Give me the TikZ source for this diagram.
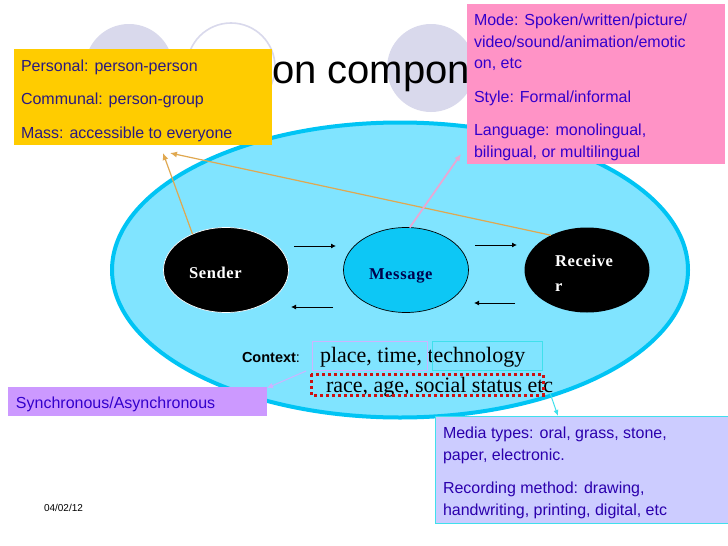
\documentclass[tikz,border=0pt]{standalone}
\usepackage{fontspec}
\setmainfont{Liberation Serif}
\setsansfont{Liberation Sans}
\usetikzlibrary{shapes.geometric,arrows.meta}
\definecolor{ringc}{HTML}{D9D9EC}
\definecolor{skyfill}{HTML}{80E4FF}
\definecolor{skyline}{HTML}{00C4F4}
\definecolor{yellowbox}{HTML}{FFCC00}
\definecolor{pinkbox}{HTML}{FF93C6}
\definecolor{lilacbox}{HTML}{CC99FF}
\definecolor{mediabox}{HTML}{CCCCFF}
\definecolor{navytext}{HTML}{2A1A80}
\definecolor{bluetext}{HTML}{3300CC}
\definecolor{orangeln}{HTML}{E0A850}
\definecolor{pinkln}{HTML}{E8A8D4}
\definecolor{lilacln}{HTML}{CDB4FF}
\definecolor{cyanln}{HTML}{40E0EC}
\definecolor{redbox}{HTML}{CC1111}
\tikzset{
  x=1pt,y=-1pt,
  txt/.style={anchor=base west,inner sep=0pt,outer sep=0pt},
  sanslbl/.style={txt,font=\fontsize{16}{16}\selectfont\sffamily},
  yellowlbl/.style={sanslbl,text=navytext},
  bluelbl/.style={sanslbl,text=bluetext},
  medialbl/.style={sanslbl,text=bluetext!85!black},
  seriflbl/.style={txt,font=\fontsize{22}{22}\selectfont\rmfamily},
  box/.style={anchor=north west,inner sep=0pt,outer sep=0pt},
  blob/.style={ellipse,inner sep=0pt,outer sep=0pt,minimum width=125pt,minimum height=85pt},
  nodelbl/.style={txt,font=\fontsize{16.5}{16.5}\selectfont\rmfamily\bfseries\addfontfeatures{LetterSpace=4}},
  ring/.style={circle,inner sep=0pt,minimum size=88pt},
  smallarrow/.style={-{Latex[length=5pt,width=5pt]},line width=0.9pt,black},
  orangearrow/.style={-{Latex[length=7pt,width=6pt]},line width=1.2pt,orangeln},
}
\begin{document}
\begin{tikzpicture}
\useasboundingbox (0,0) rectangle (728,546);
\fill[white] (0,0) rectangle (728,546);
% header circles and title
\node[ring,fill=ringc] (c1) at (129,68) {};
\node[ring,draw=ringc,line width=1.6pt] (c2) at (231,67) {};
\node[ring,fill=ringc] (c3) at (431,68) {};
\node[txt,font=\fontsize{40}{40}\selectfont\sffamily] (title) at (272,83) {on compone};
% big ellipse
\node[ellipse,draw=skyline,fill=skyfill,line width=4pt,inner sep=0pt,minimum width=576pt,minimum height=295pt] (ctx) at (400,270) {};
% participant ellipses
\node[blob,fill=black,draw=white,line width=0.7pt] (sender) at (226,270) {};
\node[blob,fill=skyline!95!white,draw=black,line width=0.7pt] (message) at (406,270) {};
\node[blob,fill=black] (receiver) at (587,270) {};
\node[nodelbl,text=white] (senderT) at (189,278) {Sender};
\node[nodelbl,text=black!70!blue] (messageT) at (369,279) {Message};
\node[nodelbl,text=white] (recT1) at (555,266) {Receive};
\node[nodelbl,text=white] (recT2) at (555,291) {r};
% yellow box
\coordinate (tipA) at (163,153);
\coordinate (tipB) at (170,153);
\coordinate (tipC) at (461,154);
\coordinate (tipD) at (267,388);
\coordinate (tipE) at (558,416);
\coordinate (fromD) at (306,371);
\coordinate (fromE) at (550,393);
\draw[orangearrow] (sender.133) -- (tipA);
\draw[orangearrow] (receiver.136) -- (tipB);
\draw[-{Latex[length=7pt,width=6pt]},line width=1.8pt,pinkln] (message.85) -- (tipC);
% small arrows
\coordinate (a1s) at (294,246); \coordinate (a1e) at (336,246);
\coordinate (a2s) at (475,245); \coordinate (a2e) at (517,245);
\coordinate (a3s) at (333,307); \coordinate (a3e) at (291,307);
\coordinate (a4s) at (515,303); \coordinate (a4e) at (474,303);
\draw[smallarrow] (a1s) -- (a1e);
\draw[smallarrow] (a2s) -- (a2e);
\draw[smallarrow] (a3s) -- (a3e);
\draw[smallarrow] (a4s) -- (a4e);
\node[box,fill=yellowbox,minimum width=258pt,minimum height=96pt] (ybox) at (14,49) {};
\node[yellowlbl] (y1) at (21,71) {Personal: person-person};
\node[yellowlbl] (y2) at (21,104) {Communal: person-group};
\node[yellowlbl] (y3) at (21,138) {Mass: accessible to everyone};
% pink box
\node[box,fill=pinkbox,minimum width=258pt,minimum height=160pt] (pbox) at (467,4) {};
\node[bluelbl] (p1) at (474,25) {Mode: Spoken/written/picture/};
\node[bluelbl] (p2) at (474,47) {video/sound/animation/emotic};
\node[bluelbl] (p3) at (474,68) {on, etc};
\node[bluelbl] (p4) at (474,102) {Style: Formal/informal};
\node[bluelbl] (p5) at (474,135) {Language: monolingual,};
\node[bluelbl] (p6) at (474,157) {bilingual, or multilingual};
% context
\node[txt,font=\fontsize{14.5}{14.5}\selectfont\sffamily] (ctxT) at (242,362) {\textbf{Context}:};
\node[seriflbl] (ctxA) at (320,362) {place, time, technology};
\node[seriflbl] (ctxB) at (326,392) {race, age, social status etc};
\draw[lilacln,line width=0.8pt] (312,341) rectangle (427,370);
\draw[cyanln,line width=0.8pt] (432,341) rectangle (542,370);
\draw[redbox,line width=3pt,dash pattern=on 3pt off 3pt] (311,374) rectangle (543,395);
% lilac box
\node[box,fill=lilacbox,minimum width=259pt,minimum height=29pt] (sbox) at (8,387) {};
\node[bluelbl] (s1) at (16,408) {Synchronous/Asynchronous};
\draw[-{Latex[length=6pt,width=6pt]},line width=1pt,lilacln] (fromD) -- (tipD);
% media box
\node[box,fill=mediabox,draw=cyanln,line width=0.8pt,minimum width=293pt,minimum height=107pt] (mbox) at (435,416) {};
\node[medialbl] (m1) at (443,438) {Media types: oral, grass, stone,};
\node[medialbl] (m2) at (443,460) {paper, electronic.};
\node[medialbl] (m3) at (443,493) {Recording method: drawing,};
\node[medialbl] (m4) at (443,515) {handwriting, printing, digital, etc};
\draw[-{Latex[length=6pt,width=5pt]},line width=1pt,cyanln] (fromE) -- (tipE);
% date
\node[txt,font=\fontsize{10}{10}\selectfont\sffamily] (date) at (44,511) {04/02/12};
\end{tikzpicture}
\end{document}
